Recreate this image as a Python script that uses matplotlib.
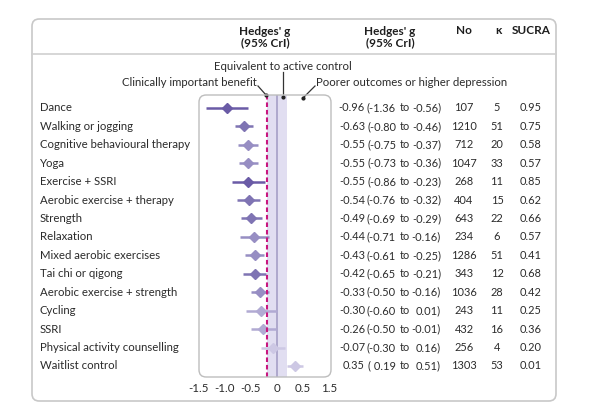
import matplotlib
matplotlib.use("Agg")
import matplotlib.pyplot as plt
from matplotlib.patches import FancyBboxPatch
from matplotlib.transforms import blended_transform_factory

plt.rcParams['font.family'] = ['Lato', 'DejaVu Sans']

# data
treatments = ['Dance', 'Walking or jogging', 'Cognitive behavioural therapy', 'Yoga',
              'Exercise + SSRI', 'Aerobic exercise + therapy', 'Strength', 'Relaxation',
              'Mixed aerobic exercises', 'Tai chi or qigong', 'Aerobic exercise + strength',
              'Cycling', 'SSRI', 'Physical activity counselling', 'Waitlist control']
g_est = [-0.96, -0.63, -0.55, -0.55, -0.55, -0.54, -0.49, -0.44, -0.43, -0.42, -0.33, -0.30, -0.26, -0.07, 0.35]
g_lo = [-1.36, -0.80, -0.75, -0.73, -0.86, -0.76, -0.69, -0.71, -0.61, -0.65, -0.50, -0.60, -0.50, -0.30, 0.19]
g_hi = [-0.56, -0.46, -0.37, -0.36, -0.23, -0.32, -0.29, -0.16, -0.25, -0.21, -0.16, 0.01, -0.01, 0.16, 0.51]
n_participants = [107, 1210, 712, 1047, 268, 404, 643, 234, 1286, 343, 1036, 243, 432, 256, 1303]
n_trials = [5, 51, 20, 33, 11, 15, 22, 6, 51, 12, 28, 11, 16, 4, 53]
sucra = [0.95, 0.75, 0.58, 0.57, 0.85, 0.62, 0.66, 0.57, 0.41, 0.68, 0.42, 0.25, 0.36, 0.20, 0.01]
# shade level of each marker (0 = darkest)
shade = [0, 1, 2, 2, 0, 1, 1, 2, 2, 1, 2, 3, 3, 4, 4]

tick_pos = [-1.5, -1.0, -0.5, 0, 0.5, 1.0]
tick_labels = ['-1.5', '-1.0', '-0.5', '0', '0.5', '1.5']

shade_colors = ['#6a5ba6', '#7f74b3', '#978ec3', '#b1aad3', '#cdc8e4']
txt = '#2b2b2b'

W, H = 600, 411
fig = plt.figure(figsize=(W / 100, H / 100), dpi=100)


def fx(x):
    return x / W


def fy(y):
    return 1 - y / H


# outer rounded frame and header separator
fig.patches.append(FancyBboxPatch((fx(32), fy(401)), fx(556) - fx(32), fy(19) - fy(401),
                                  boxstyle='round,pad=0,rounding_size=0.012',
                                  mutation_aspect=W / H, transform=fig.transFigure,
                                  facecolor='none', edgecolor='#c8c8c8', lw=1.2))
fig.add_artist(plt.Line2D([fx(32), fx(556)], [fy(54), fy(54)], color='#cfcfcf', lw=1.2))

# forest plot axes
ax = fig.add_axes([fx(199), fy(377), fx(331) - fx(199), fy(95) - fy(377)])
ax.set_xlim(-1.5, 1.04)
ax.set_ylim(14.6, -0.7)
for s in ax.spines.values():
    s.set_visible(False)
ax.set_yticks([])
ax.set_xticks(tick_pos)
ax.set_xticklabels(tick_labels)
ax.tick_params(axis='x', length=0, pad=4, labelsize=8.3, labelcolor=txt)

fig.patches.append(FancyBboxPatch((fx(199), fy(377)), fx(331) - fx(199), fy(95) - fy(377),
                                  boxstyle='round,pad=0,rounding_size=0.012',
                                  mutation_aspect=W / H, transform=fig.transFigure,
                                  facecolor='none', edgecolor='#bdbdbd', lw=1, zorder=5))

ax.axvspan(-0.2, 0.2, color='#e1def1', lw=0, zorder=0)
ax.axvline(0, color='#a59fc6', lw=1.2, zorder=1)
ax.axvline(-0.2, color='#c8177f', lw=1.5, ls=(0, (2.2, 1.4)), zorder=4)

for i in range(len(treatments)):
    c = shade_colors[shade[i]]
    ax.plot([g_lo[i], g_hi[i]], [i, i], color=c, lw=1.8, solid_capstyle='butt', zorder=2)
    ax.plot(g_est[i], i, marker='D', ms=5.5, color=c, mec=c, zorder=3)

# text columns
tr = blended_transform_factory(fig.transFigure, ax.transData)
fs = 8.2
fv = 7.9
for i in range(len(treatments)):
    lo_txt = '(%.2f' % g_lo[i] if g_lo[i] < 0 else '( %.2f' % g_lo[i]
    ax.text(fx(40), i, treatments[i], transform=tr, ha='left', va='center', fontsize=fs, color=txt)
    ax.text(fx(365), i, '%.2f' % g_est[i], transform=tr, ha='right', va='center', fontsize=fv, color=txt)
    ax.text(fx(396), i, lo_txt, transform=tr, ha='right', va='center', fontsize=fv, color=txt)
    ax.text(fx(399.5), i, 'to', transform=tr, ha='left', va='center', fontsize=fv, color=txt)
    ax.text(fx(441), i, '%.2f)' % g_hi[i], transform=tr, ha='right', va='center', fontsize=fv, color=txt)
    ax.text(fx(464), i, str(n_participants[i]), transform=tr, ha='center', va='center', fontsize=fv, color=txt)
    ax.text(fx(497), i, str(n_trials[i]), transform=tr, ha='center', va='center', fontsize=fv, color=txt)
    ax.text(fx(531), i, '%.2f' % sucra[i], transform=tr, ha='center', va='center', fontsize=fv, color=txt)

# header
hd = dict(ha='center', va='center', fontsize=8.5, fontweight='bold', color='#1e1e1e', linespacing=0.95)
fig.text(fx(265), fy(37), "Hedges' g\n(95% CrI)", **hd)
fig.text(fx(390), fy(37), "Hedges' g\n(95% CrI)", **hd)
fig.text(fx(464), fy(31), 'No', **hd)
fig.text(fx(498), fy(31), 'κ', **hd)
fig.text(fx(531), fy(31), 'SUCRA', **hd)

# annotations
an = dict(fontsize=fs, color=txt, va='center')
fig.text(fx(283), fy(66), 'Equivalent to active control', ha='center', **an)
fig.text(fx(257), fy(82), 'Clinically important benefit', ha='right', **an)
fig.text(fx(316), fy(82), 'Poorer outcomes or higher depression', ha='left', **an)
fig.add_artist(plt.Line2D([fx(283), fx(283)], [fy(72), fy(97)], color='#333333', lw=0.9))
fig.add_artist(plt.Line2D([fx(258), fx(266)], [fy(86), fy(95)], color='#333333', lw=0.9))
fig.add_artist(plt.Line2D([fx(315), fx(303)], [fy(86), fy(98)], color='#333333', lw=0.9))
for px, py in [(283, 97), (303, 98), (266, 95)]:
    fig.add_artist(plt.Line2D([fx(px)], [fy(py)], marker='o', ms=2, color='#222222'))

fig.savefig('out.png', dpi=100, facecolor='white')
